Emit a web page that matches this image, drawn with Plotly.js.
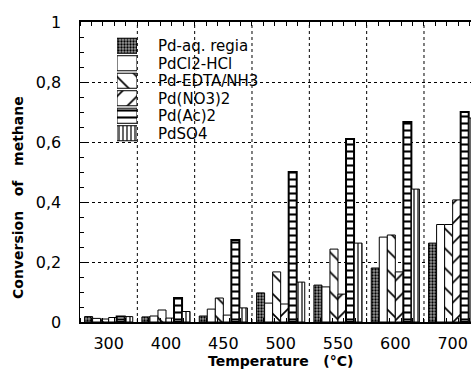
<!DOCTYPE html>
<html>
<head>
<meta charset="utf-8">
<script src="https://cdn.plot.ly/plotly-3.0.1.min.js"></script>
<style>html,body{margin:0;padding:0;background:#fff;}#chart{width:471px;height:376px;}</style>
</head>
<body>
<div id="chart"></div>
<script>
// ---- data ----
const categories = ['300', '400', '450', '500', '550', '600', '700'];
const seriesNames = ['Pd-aq. regia', 'PdCl2-HCl', 'Pd-EDTA/NH3', 'Pd(NO3)2', 'Pd(Ac)2', 'PdSO4'];
const aqRegia = [0.018, 0.017, 0.020, 0.097, 0.123, 0.180, 0.263];
const pdCl2   = [0.012, 0.020, 0.043, 0.063, 0.117, 0.283, 0.325];
const edta    = [0.010, 0.040, 0.080, 0.167, 0.243, 0.290, 0.325];
const no3     = [0.015, 0.013, 0.023, 0.060, 0.093, 0.167, 0.407];
const acet    = [0.018, 0.080, 0.273, 0.500, 0.610, 0.667, 0.700];
const so4     = [0.018, 0.035, 0.047, 0.133, 0.263, 0.443, 0.680];
const yTitle = 'Conversion\u00a0\u00a0\u00a0of\u00a0\u00a0\u00a0methane';
const xTitle = 'Temperature\u00a0\u00a0\u00a0(°C)';

// ---- styles ----
const seriesValues = [aqRegia, pdCl2, edta, no3, acet, so4];
const patterns = [
  {shape: '.', size: 3, solidity: 0.45, fgcolor: '#000', bgcolor: '#9a9a9a', fillmode: 'replace'},
  {shape: '', fgcolor: '#000', bgcolor: '#fff'},
  {shape: '\\', size: 14, solidity: 0.12, fgcolor: '#000', bgcolor: '#fff', fillmode: 'replace'},
  {shape: '/', size: 14, solidity: 0.12, fgcolor: '#000', bgcolor: '#fff', fillmode: 'replace'},
  {shape: '-', size: 7, solidity: 0.3, fgcolor: '#000', bgcolor: '#fff', fillmode: 'replace'},
  {shape: '|', size: 4, solidity: 0.3, fgcolor: '#000', bgcolor: '#fff', fillmode: 'replace'}
];
const lineWidths = [1, 1, 1, 1, 2, 1];
const xIdx = categories.map((c, i) => i);

const traces = seriesNames.map((name, s) => ({
  type: 'bar', name: name, x: xIdx, y: seriesValues[s],
  marker: {color: '#fff', pattern: patterns[s], line: {color: '#000', width: lineWidths[s]}},
  showlegend: false, hoverinfo: 'skip'
}));
// custom legend drawn as a small bar subplot
seriesNames.forEach((name, s) => {
  traces.push({
    type: 'bar', orientation: 'h', x: [1], y: [name], xaxis: 'x3', yaxis: 'y3',
    marker: {color: '#fff', pattern: patterns[s], line: {color: '#000', width: 1}},
    showlegend: false, hoverinfo: 'skip', width: 0.86
  });
});

const font = {family: 'DejaVu Sans', size: 16, color: '#000'};
const legendFont = {family: 'DejaVu Sans', size: 15, color: '#000'};
const gridShapes = categories.slice(0, -1).map((c, i) => ({
  type: 'line', xref: 'x', yref: 'y', x0: i + 0.5, x1: i + 0.5, y0: 0, y1: 1,
  line: {color: '#000', width: 1, dash: 'dot'}, layer: 'below'
}));

const layout = {
  width: 471, height: 376,
  margin: {l: 80, r: 0, t: 22, b: 54},
  paper_bgcolor: '#fff', plot_bgcolor: '#fff',
  separators: ', ',
  font: font,
  barmode: 'group', bargap: 0.16, bargroupgap: 0,
  showlegend: false,
  xaxis: {
    range: [-0.5, 6.32], tickmode: 'array', tickvals: xIdx, ticktext: categories,
    ticks: '', showgrid: false, zeroline: false,
    showline: true, linecolor: '#000', linewidth: 2, mirror: 'ticks',
    ticklabelstandoff: 6, tickfont: font,
    minor: {tick0: 0.5, dtick: 0.2, ticks: 'inside', ticklen: 4, tickcolor: '#000', showgrid: false}
  },
  yaxis: {
    range: [0, 1], tickmode: 'linear', tick0: 0, dtick: 0.2,
    showgrid: true, gridcolor: '#000', gridwidth: 1, griddash: 'dot',
    zeroline: false, showline: true, linecolor: '#000', linewidth: 1.5,
    ticks: 'inside', ticklen: 6, tickcolor: '#000', ticklabelstandoff: 14, tickfont: font,
    minor: {dtick: 0.05, ticks: 'inside', ticklen: 4, tickcolor: '#000', showgrid: false}
  },
  xaxis3: {domain: [0.0946, 0.1458], range: [0, 1], visible: false, anchor: 'y3', fixedrange: true},
  yaxis3: {domain: [0.60, 0.95], anchor: 'x3', type: 'category', autorange: 'reversed',
    tickmode: 'array', tickvals: seriesNames, ticktext: seriesNames,
    side: 'right', showgrid: false, zeroline: false, showline: false, ticks: '',
    ticklabelstandoff: 20, tickfont: legendFont},
  shapes: gridShapes,
  annotations: [
    {text: yTitle, xref: 'paper', yref: 'paper', x: -62 / 391, y: (322 - 198) / 300,
     textangle: -90, showarrow: false, font: {family: 'DejaVu Sans', size: 14, color: '#000', weight: 'bold'},
     xanchor: 'center', yanchor: 'middle'},
    {text: xTitle, xref: 'paper', yref: 'paper', x: (280 - 80) / 391, y: -(361 - 322) / 300,
     showarrow: false, font: {family: 'DejaVu Sans', size: 14, color: '#000', weight: 'bold'},
     xanchor: 'center', yanchor: 'middle'}
  ]
};

Plotly.newPlot('chart', traces, layout, {staticPlot: true, displayModeBar: false});
</script>
</body>
</html>
